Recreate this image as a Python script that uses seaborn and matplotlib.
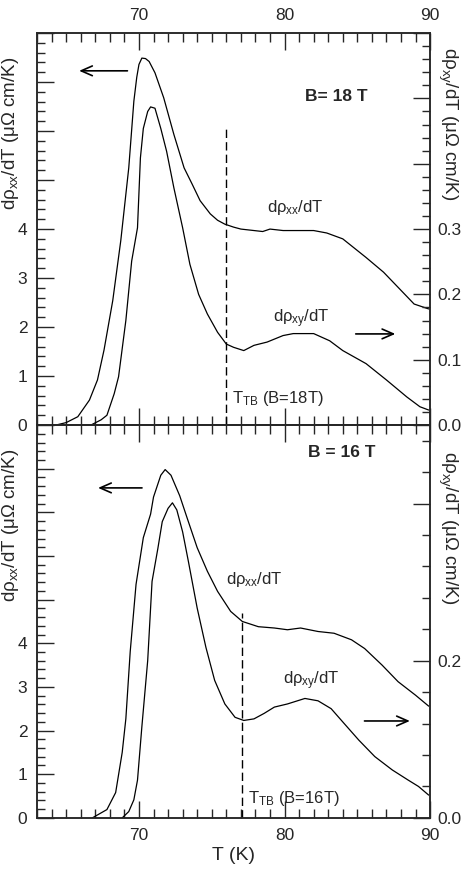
import matplotlib

matplotlib.use("Agg")

import matplotlib.pyplot as plt
import pandas as pd
import seaborn as sns
from matplotlib.ticker import MultipleLocator

# B = 18 T panel
T_XX_18 = [64.0, 64.3, 65.0, 65.8, 66.6, 67.15, 67.6, 68.2, 68.75, 69.3, 69.65, 69.85, 70.0,
           70.2, 70.45, 70.7, 71.1, 71.7, 72.4, 73.1, 73.65, 74.2, 74.9, 75.4, 75.9, 76.5,
           77.0, 77.9, 78.5, 79.0, 79.9, 81.1, 82.0, 82.9, 84.0, 85.6, 86.8, 87.9, 88.9, 89.9]
RHO_XX_18 = [0.0, 0.0, 0.05, 0.17, 0.51, 0.92, 1.53, 2.54, 3.76, 5.25, 6.61, 7.1, 7.36, 7.49,
             7.48, 7.42, 7.19, 6.68, 5.93, 5.25, 4.92, 4.58, 4.31, 4.18, 4.1, 4.04, 4.0, 3.97,
             3.95, 4.0, 3.97, 3.97, 3.97, 3.92, 3.8, 3.42, 3.12, 2.78, 2.47, 2.37]
T_XY_18 = [66.7, 67.4, 67.8, 68.3, 68.6, 69.1, 69.5, 69.9, 70.1, 70.3, 70.6, 70.8, 71.1, 71.5,
           71.9, 72.4, 73.0, 73.5, 74.1, 74.7, 75.4, 76.0, 76.5, 77.2, 77.9, 78.8, 79.9, 80.6,
           82.0, 83.1, 84.0, 85.6, 87.0, 88.4, 89.3, 89.9]
RHO_XY_18 = [0.0, 0.008, 0.015, 0.048, 0.074, 0.16, 0.251, 0.302, 0.409, 0.454, 0.48, 0.487,
             0.485, 0.454, 0.419, 0.363, 0.302, 0.246, 0.2, 0.17, 0.142, 0.124, 0.119, 0.114,
             0.122, 0.127, 0.137, 0.14, 0.14, 0.129, 0.114, 0.094, 0.069, 0.043, 0.028, 0.023]

# B = 16 T panel
T_XX_16 = [66.8, 67.8, 68.4, 68.85, 69.1, 69.4, 69.8, 70.3, 70.8, 71.0, 71.5, 71.8, 72.2, 72.8,
           73.3, 74.0, 74.7, 75.4, 76.3, 77.1, 78.2, 79.3, 80.2, 81.1, 82.3, 83.4, 84.6, 85.5,
           86.7, 87.8, 89.0, 89.9]
RHO_XX_16 = [0.0, 0.19, 0.58, 1.5, 2.27, 3.81, 5.35, 6.42, 6.96, 7.35, 7.85, 7.98, 7.85, 7.38,
             6.88, 6.19, 5.65, 5.19, 4.73, 4.5, 4.38, 4.35, 4.31, 4.35, 4.27, 4.23, 4.08, 3.88,
             3.5, 3.12, 2.81, 2.56]
T_XY_16 = [68.85, 69.3, 69.65, 69.9, 70.2, 70.6, 70.9, 71.3, 71.6, 72.0, 72.3, 72.6, 73.0, 73.4,
           74.0, 74.6, 75.2, 75.9, 76.6, 77.2, 77.9, 78.6, 79.3, 80.2, 81.4, 82.3, 83.2, 84.1,
           85.1, 86.2, 87.4, 88.5, 89.2, 89.9]
RHO_XY_16 = [0.0, 0.008, 0.023, 0.048, 0.116, 0.2, 0.301, 0.343, 0.377, 0.394, 0.401, 0.392,
             0.364, 0.326, 0.267, 0.217, 0.175, 0.145, 0.128, 0.124, 0.126, 0.133, 0.141, 0.145,
             0.152, 0.149, 0.139, 0.12, 0.099, 0.078, 0.061, 0.048, 0.04, 0.029]

T_TB = {"18": 76.0, "16": 77.1}
LEFT_YMAX = {"18": 8, "16": 9}
RIGHT_YMAX = {"18": 0.6, "16": 0.5}
LEFT_LABELS = ["0", "1", "2", "3", "4"]
RIGHT_LABELS = {"18": ["0.0", "0.1", "0.2", "0.3"], "16": ["0.0", "0.2"]}

LEFT_YLABEL = "dρ$_{xx}$/dT (μΩ cm/K)"
RIGHT_YLABEL = "dρ$_{xy}$/dT (μΩ cm/K)"

sns.set_style("ticks")
plt.rcParams["font.family"] = ["Liberation Sans", "DejaVu Sans"]
plt.rcParams["mathtext.fontset"] = "custom"
plt.rcParams["mathtext.rm"] = "Liberation Sans"
plt.rcParams["mathtext.it"] = "Liberation Sans"
plt.rcParams["axes.linewidth"] = 1.1

ARROW = dict(arrowstyle="->,head_length=0.8,head_width=0.35", lw=1.2, color="black")
TICK_FS = 12.5
YLABEL_FS = 13.5


def style_axes(ax, ax2, key, top):
    ax.set_xlim(63, 90)
    ax.set_ylim(0, LEFT_YMAX[key])
    ax2.set_ylim(0, RIGHT_YMAX[key])
    ax.xaxis.set_major_locator(MultipleLocator(10))
    ax.xaxis.set_minor_locator(MultipleLocator(1))
    ax.set_yticks(range(0, LEFT_YMAX[key] + 1))
    ax.set_yticklabels(LEFT_LABELS + [""] * (LEFT_YMAX[key] - 4))
    ax.yaxis.set_minor_locator(MultipleLocator(0.2))
    step = 0.1 if key == "18" else 0.2
    n_major = int(round(RIGHT_YMAX[key] / step)) + 1
    ax2.set_yticks([i * step for i in range(n_major)])
    ax2.set_yticklabels(RIGHT_LABELS[key] + [""] * (n_major - len(RIGHT_LABELS[key])))
    ax2.yaxis.set_minor_locator(MultipleLocator(step / 5))

    ax.tick_params(axis="x", which="both", direction="in", top=True, bottom=True,
                   labeltop=top, labelbottom=not top, labelsize=TICK_FS, pad=7.5, width=1.0)
    ax.tick_params(axis="x", which="major", length=12)
    ax.tick_params(axis="x", which="minor", length=6.5)
    ax.tick_params(axis="y", which="both", direction="in", left=True, right=False,
                   labelsize=TICK_FS, pad=7, width=1.0)
    ax.tick_params(axis="y", which="major", length=12)
    ax.tick_params(axis="y", which="minor", length=6)
    ax2.tick_params(axis="y", which="both", direction="in", labelsize=TICK_FS, pad=5, width=1.0)
    ax2.tick_params(axis="y", which="major", length=12)
    ax2.tick_params(axis="y", which="minor", length=6)

    ax.set_xlabel("")
    ax.set_ylabel(LEFT_YLABEL, fontsize=YLABEL_FS)
    ax2.set_ylabel(RIGHT_YLABEL, fontsize=YLABEL_FS, rotation=-90, va="center")
    ax.yaxis.set_label_coords(-0.042, 0.745)
    ax2.yaxis.set_label_coords(1.045, 0.77 if key == "18" else 0.74)


def draw_panel(ax, t_xx, r_xx, t_xy, r_xy):
    xx = pd.DataFrame({"T": t_xx, "val": r_xx})
    xy = pd.DataFrame({"T": t_xy, "val": r_xy})
    sns.lineplot(data=xx, x="T", y="val", ax=ax, color="black", lw=0.9, estimator=None)
    ax2 = ax.twinx()
    sns.lineplot(data=xy, x="T", y="val", ax=ax2, color="black", lw=0.9, estimator=None)
    return ax2


fig = plt.figure(figsize=(4.63, 8.71), dpi=100)
ax_top = fig.add_axes([0.080, 0.512, 0.849, 0.450])
ax_bot = fig.add_axes([0.080, 0.061, 0.849, 0.451])

# top panel, B = 18 T
ax2_top = draw_panel(ax_top, T_XX_18, RHO_XX_18, T_XY_18, RHO_XY_18)
style_axes(ax_top, ax2_top, "18", top=True)
ax_top.plot([T_TB["18"], T_TB["18"]], [0, 6.07], color="black", lw=1.0, ls=(0, (6, 3)))
ax_top.text(T_TB["18"] + 0.4, 0.45, "T$_{\\rm TB}$ (B=18T)", fontsize=12)
ax_top.text(81.4, 6.7, "B= 18 T", fontsize=12.5, fontweight="bold", va="center")
ax_top.text(78.8, 4.45, "dρ$_{xx}$/dT", fontsize=12, va="center")
ax_top.text(79.2, 2.17, "dρ$_{xy}$/dT", fontsize=12, va="center")
ax_top.annotate("", xy=(65.7, 7.23), xytext=(69.4, 7.23), arrowprops=ARROW)
ax_top.annotate("", xy=(87.8, 1.86), xytext=(84.7, 1.86), arrowprops=ARROW)

# bottom panel, B = 16 T
ax2_bot = draw_panel(ax_bot, T_XX_16, RHO_XX_16, T_XY_16, RHO_XY_16)
style_axes(ax_bot, ax2_bot, "16", top=False)
ax_bot.plot([T_TB["16"], T_TB["16"]], [0, 4.69], color="black", lw=1.0, ls=(0, (6, 3)))
ax_bot.text(T_TB["16"] + 0.4, 0.35, "T$_{\\rm TB}$ (B=16T)", fontsize=12)
ax_bot.text(81.6, 8.38, "B = 16 T", fontsize=12.5, fontweight="bold", va="center")
ax_bot.text(76.0, 5.46, "dρ$_{xx}$/dT", fontsize=12, va="center")
ax_bot.text(79.9, 3.15, "dρ$_{xy}$/dT", fontsize=12, va="center")
ax_bot.annotate("", xy=(67.0, 7.56), xytext=(70.4, 7.56), arrowprops=ARROW)
ax_bot.annotate("", xy=(88.8, 2.22), xytext=(85.3, 2.22), arrowprops=ARROW)
ax_bot.set_xlabel("T (K)", fontsize=14, labelpad=3)

fig.savefig("out.png", dpi=100)
plt.close(fig)
